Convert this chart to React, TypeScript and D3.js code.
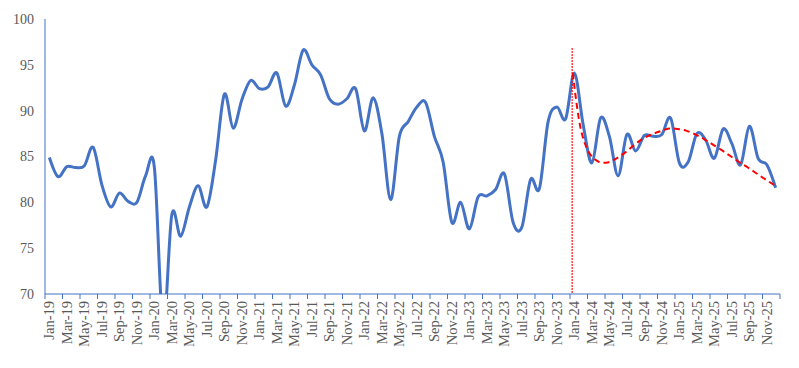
import * as d3 from "d3";
import { useEffect, useRef } from "react";

// monthly categories Jan-19 .. Dec-25
const months: string[] = d3
  .timeMonths(new Date(2019, 0, 1), new Date(2026, 0, 1))
  .map((d) => d3.timeFormat("%b-%y")(d));

const values2019 = [84.9, 82.8, 83.9, 83.8, 84.0, 86.0, 81.9, 79.5, 81.0, 80.1, 80.0, 82.9];
const values2020 = [83.8, 66.5, 78.7, 76.3, 79.5, 81.8, 79.5, 84.6, 91.8, 88.1, 91.2, 93.3];
const values2021 = [92.4, 92.6, 94.1, 90.5, 92.8, 96.6, 95.0, 93.9, 91.3, 90.7, 91.3, 92.4];
const values2022 = [87.8, 91.4, 87.5, 80.3, 87.2, 88.8, 90.4, 90.9, 87.2, 84.4, 77.8, 80.0];
const values2023 = [77.1, 80.6, 80.7, 81.4, 83.1, 77.8, 77.3, 82.5, 81.5, 88.8, 90.4, 89.1];
const values2024 = [94.1, 88.5, 84.3, 89.2, 87.2, 82.9, 87.4, 85.6, 87.3, 87.2, 87.4, 89.2];
const values2025 = [84.3, 84.4, 87.5, 86.8, 84.8, 88.0, 86.4, 84.1, 88.3, 84.8, 84.1, 81.6];

const values = [
  ...values2019,
  ...values2020,
  ...values2021,
  ...values2022,
  ...values2023,
  ...values2024,
  ...values2025,
];

// trend line from the cut-off month onwards
const trendStart = "Jan-24";
const trendValues = [
  94.1, 87.6, 85.2, 84.4, 84.35, 84.8, 85.45, 86.25, 86.95, 87.4, 87.75, 88.05,
  88.0, 87.8, 87.4, 86.9, 86.3, 85.7, 85.05, 84.4, 83.8, 83.15, 82.5, 81.9,
];
const cutTop = 96.8;

const yTicks = [70, 75, 80, 85, 90, 95, 100];

const W = 799;
const H = 368;

export default function App() {
  const svgRef = useRef<SVGSVGElement>(null);

  useEffect(() => {
    if (!svgRef.current) return;
    const svg = d3.select(svgRef.current);
    svg.selectAll("*").remove();

    const margin = { top: 19, right: 19, bottom: 74, left: 45 };
    const x0 = margin.left;
    const x1 = W - margin.right;
    const yBottom = H - margin.bottom;

    const x = d3.scaleBand<string>().domain(months).range([x0, x1]).padding(0);
    const bw = x.bandwidth();
    const cx = (m: string) => (x(m) ?? 0) + bw / 2;
    const y = d3.scaleLinear().domain([70, 100]).range([yBottom, margin.top]);

    const axisColor = "#4472C4";
    const textColor = "#595959";
    const font = "'Liberation Serif', 'Times New Roman', serif";

    // clip for the plot area
    svg
      .append("defs")
      .append("clipPath")
      .attr("id", "plot-clip")
      .append("rect")
      .attr("x", x0)
      .attr("y", 0)
      .attr("width", x1 - x0 + 5)
      .attr("height", yBottom);

    // y labels
    svg
      .append("g")
      .selectAll("text")
      .data(yTicks)
      .enter()
      .append("text")
      .attr("x", x0 - 11)
      .attr("y", (d) => y(d))
      .attr("dy", "0.35em")
      .attr("text-anchor", "end")
      .style("font-family", font)
      .style("font-size", "14px")
      .style("fill", textColor)
      .text((d) => d);

    // axis lines
    svg
      .append("line")
      .attr("x1", x0)
      .attr("x2", x0)
      .attr("y1", y(100))
      .attr("y2", yBottom)
      .attr("stroke", axisColor)
      .attr("stroke-width", 1);

    svg
      .append("line")
      .attr("x1", x0)
      .attr("x2", x1)
      .attr("y1", yBottom)
      .attr("y2", yBottom)
      .attr("stroke", axisColor)
      .attr("stroke-width", 1);

    // tick marks between categories, every second month
    const tickPos = months
      .filter((_, i) => i % 2 === 0)
      .map((m) => x(m) ?? 0)
      .concat([x1]);
    svg
      .append("g")
      .selectAll("line")
      .data(tickPos)
      .enter()
      .append("line")
      .attr("x1", (d) => d)
      .attr("x2", (d) => d)
      .attr("y1", yBottom)
      .attr("y2", yBottom + 5)
      .attr("stroke", axisColor)
      .attr("stroke-width", 1);

    // x labels, rotated
    svg
      .append("g")
      .selectAll("text")
      .data(months.filter((_, i) => i % 2 === 0))
      .enter()
      .append("text")
      .attr(
        "transform",
        (d) => `translate(${cx(d) + 5},${yBottom + 7}) rotate(-90)`
      )
      .attr("text-anchor", "end")
      .style("font-family", font)
      .style("font-size", "14.5px")
      .style("fill", textColor)
      .text((d) => d);

    // main series
    const line = d3
      .line<number>()
      .x((_, i) => cx(months[i]))
      .y((d) => y(d))
      .curve(d3.curveCatmullRom.alpha(0));

    svg
      .append("path")
      .datum(values)
      .attr("clip-path", "url(#plot-clip)")
      .attr("d", line)
      .attr("fill", "none")
      .attr("stroke", "#4472C4")
      .attr("stroke-width", 3)
      .attr("stroke-linejoin", "round");

    // trend
    const startIdx = months.indexOf(trendStart);
    const trend = d3
      .line<number>()
      .x((_, i) => cx(months[startIdx + i]) - 1.5)
      .y((d) => y(d))
      .curve(d3.curveCatmullRom.alpha(0.5));

    svg
      .append("path")
      .datum(trendValues)
      .attr("d", trend)
      .attr("fill", "none")
      .attr("stroke", "#FF0000")
      .attr("stroke-width", 2)
      .attr("stroke-dasharray", "6,4");

    // cut-off marker
    const cutX = (x(trendStart) ?? 0) + bw / 4;
    svg
      .append("line")
      .attr("x1", cutX)
      .attr("x2", cutX)
      .attr("y1", y(cutTop))
      .attr("y2", yBottom)
      .attr("stroke", "#FF0000")
      .attr("stroke-width", 1.5)
      .attr("stroke-dasharray", "1.5,1.5");
  }, []);

  return (
    <svg
      ref={svgRef}
      width={W}
      height={H}
      style={{ position: "absolute", left: 0, top: 0, background: "#fff" }}
    />
  );
}
